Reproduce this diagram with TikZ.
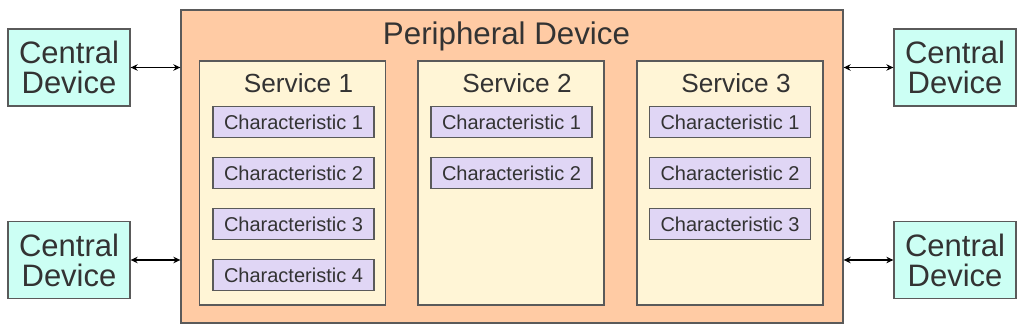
\documentclass[tikz,border=0pt]{standalone}
\usepackage{fontspec}
\setmainfont{Liberation Sans}
\usetikzlibrary{arrows.meta}
\definecolor{peach}{HTML}{FFCBA4}
\definecolor{svcyellow}{HTML}{FFF5D6}
\definecolor{chrlilac}{HTML}{E0D6F5}
\definecolor{cencyan}{HTML}{CCFFF4}
\definecolor{edgegray}{HTML}{5A5A5A}
\definecolor{textgray}{HTML}{333333}
\tikzset{
  box/.style={draw=edgegray,line width=1.3pt,inner sep=0pt,text=textgray},
  central/.style={box,fill=cencyan,minimum width=122pt,minimum height=77pt,align=center,font=\fontsize{31}{30}\selectfont},
  periph/.style={box,fill=peach,minimum width=662pt,minimum height=313pt},
  svcbox/.style={box,fill=svcyellow,minimum width=186pt,minimum height=244pt},
  chrbox/.style={box,fill=chrlilac,minimum width=161pt,minimum height=31pt,font=\fontsize{20}{20}\selectfont},
  title/.style={text=textgray,inner sep=0pt,anchor=base},
  link/.style={{Stealth[length=7pt,width=6.5pt]}-{Stealth[length=7pt,width=6.5pt]},line width=1.2pt,black}
}
\begin{document}
\begin{tikzpicture}[x=1pt,y=-1pt]
\useasboundingbox (0,0) rectangle (1024,334);
% peripheral with its services
\node[periph] (per) at (512,166.5) {};
\node[title,font=\fontsize{31.3}{31}\selectfont] (pertitle) at (506.5,45) {Peripheral Device};
\foreach \x [count=\i] in {292.5,511,730}{
  \node[svcbox] (svc\i) at (\x,183) {};
  \node[title,font=\fontsize{26.2}{26}\selectfont] (svctitle\i) at ({\x+6},93) {Service \i};
}
\foreach \n/\x [count=\i] in {4/293.5,2/511.5,3/730}
  \foreach \j in {1,...,\n}
    \node[chrbox] (chr\i\j) at (\x,{122+51*(\j-1)}) {Characteristic \j};
% central devices
\node[central] (cenTL) at (69,67.5) {Central\\Device};
\node[central] (cenBL) at (69,260) {Central\\Device};
\node[central] (cenTR) at (955,67.5) {Central\\Device};
\node[central] (cenBR) at (955,260) {Central\\Device};
\draw[link] (cenTL.east) -- (cenTL.east -| per.west);
\draw[link] (cenBL.east) -- (cenBL.east -| per.west);
\draw[link] (cenTR.west) -- (cenTR.west -| per.east);
\draw[link] (cenBR.west) -- (cenBR.west -| per.east);
\end{tikzpicture}
\end{document}
